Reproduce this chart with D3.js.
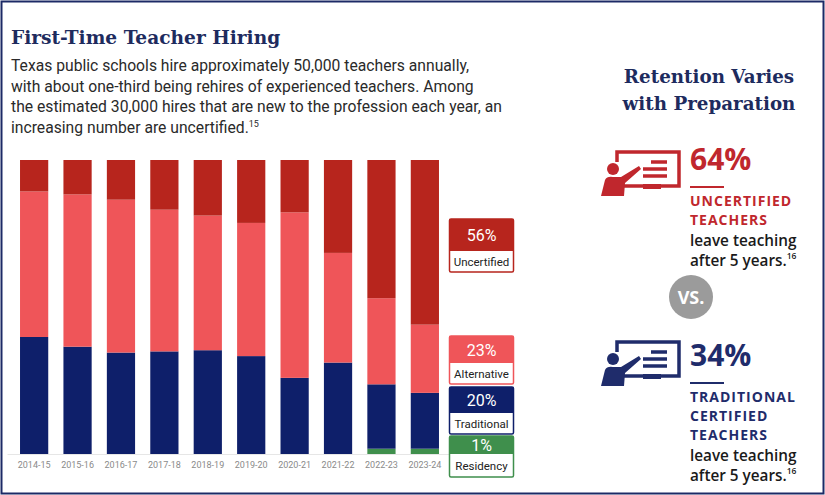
<!DOCTYPE html>
<html><head><meta charset="utf-8">
<script src="https://cdn.jsdelivr.net/npm/d3@7"></script>
<style>body{margin:0;background:#fff}</style>
</head><body><div id="chart"></div>
<script>
const width = 825, height = 495;

const years = ["2014-15","2015-16","2016-17","2017-18","2018-19","2019-20","2020-21","2021-22","2022-23","2023-24"];
const residency   = [0, 0, 0, 0, 0, 0, 0, 0, 1.8, 1.8];
const traditional = [39.8, 36.5, 34.5, 34.9, 35.3, 33.3, 25.9, 31.1, 21.9, 19.0];
const alternative = [49.5, 51.8, 52.0, 48.2, 45.8, 45.3, 56.3, 37.3, 29.3, 23.2];
const uncertified = [10.7, 11.7, 13.5, 16.9, 18.9, 21.4, 17.8, 31.6, 47.0, 56.0];
const seriesKeys = ["residency","traditional","alternative","uncertified"];
const colors = {residency:"#3f8f4c", traditional:"#0e1f6a", alternative:"#ef5559", uncertified:"#b7251d"};
const legendItems = [
  {key:"uncertified", value:"56%", label:"Uncertified"},
  {key:"alternative", value:"23%", label:"Alternative"},
  {key:"traditional", value:"20%", label:"Traditional"},
  {key:"residency",   value:"1%",  label:"Residency"}
];

const svg = d3.select("#chart").append("svg").attr("width", width).attr("height", height);

// frame
svg.append("rect").attr("x",1.5).attr("y",1.5).attr("width",width-3).attr("height",height-3)
  .attr("fill","none").attr("stroke","#1c2a66").attr("stroke-width",2);

const navy = "#1e2b5e";
svg.append("text").attr("x",11).attr("y",44).text("First-Time Teacher Hiring")
  .attr("font-family","DejaVu Serif").attr("font-weight","bold").attr("font-size",18.6).attr("fill",navy);

const para = ["Texas public schools hire approximately 50,000 teachers annually,",
  "with about one-third being rehires of experienced teachers. Among",
  "the estimated 30,000 hires that are new to the profession each year, an",
  "increasing number are uncertified."];
para.forEach((t,i) => {
  const tx = svg.append("text").attr("x",11).attr("y",71 + i*20.7)
    .attr("font-family","Roboto").attr("font-size",15.7).attr("fill","#2a2a2a").text(t);
  if (i === para.length-1) tx.append("tspan").attr("font-size",9).attr("dy",-6).text("15");
});

// chart
const data = years.map((y,i) => ({year:y, residency:residency[i], traditional:traditional[i], alternative:alternative[i], uncertified:uncertified[i]}));
const stack = d3.stack().keys(seriesKeys)(data);
const x = d3.scaleBand().domain(years).range([7, 452]).paddingInner(0.35).paddingOuter(0.3);
const y = d3.scaleLinear().domain([0,100]).range([454,160]);

svg.append("g").selectAll("g").data(stack).join("g").attr("fill", d => colors[d.key])
  .selectAll("rect").data(d => d).join("rect")
  .attr("x", d => x(d.data.year)).attr("width", x.bandwidth())
  .attr("y", d => y(d[1])).attr("height", d => y(d[0]) - y(d[1]));

const xAxis = svg.append("g").attr("transform","translate(0,454)")
  .call(d3.axisBottom(x).tickSize(0).tickPadding(8));
xAxis.select(".domain").attr("stroke","#e6e6e6");
xAxis.selectAll("text").attr("font-family","Roboto").attr("font-size",9).attr("fill","#8a8a8a");

// legend boxes
const boxes = [
  {top:219, split:251, bottom:272},
  {top:336, split:363, bottom:384},
  {top:387, split:413, bottom:434},
  {top:436, split:454, bottom:477}
];
legendItems.forEach((d,i) => {
  const b = boxes[i], c = colors[d.key];
  const g = svg.append("g");
  g.append("rect").attr("x",449.5).attr("y",b.top).attr("width",64).attr("height",b.bottom-b.top)
    .attr("fill","#fff").attr("stroke",c).attr("stroke-width",1.5).attr("rx",1.5);
  g.append("rect").attr("x",449.5).attr("y",b.top).attr("width",64).attr("height",b.split-b.top).attr("fill",c);
  g.append("text").attr("x",481.5).attr("y",(b.top+b.split)/2+6).attr("text-anchor","middle")
    .attr("font-family","Roboto").attr("font-size",16).attr("fill","#fff").text(d.value);
  g.append("text").attr("x",481.5).attr("y",(b.split+b.bottom)/2+4.5).attr("text-anchor","middle")
    .attr("font-family","Roboto").attr("font-size",11.5).attr("fill","#222").text(d.label);
});

// right panel
["Retention Varies","with Preparation"].forEach((t,i) => {
  svg.append("text").attr("x",709).attr("y",83 + i*27).attr("text-anchor","middle").text(t)
    .attr("font-family","DejaVu Serif").attr("font-weight","bold").attr("font-size",18.3).attr("fill",navy);
});

function teacherIcon(tx, ty, c) {
  const g = svg.append("g").attr("transform",`translate(${tx},${ty})`).attr("fill",c);
  g.append("path").attr("fill","none").attr("stroke",c).attr("stroke-width",3.5)
    .attr("d","M18,12 V2 H80 V36 H20");
  [12,19,26].forEach((ly,i) => g.append("line").attr("x1",i===0?52:44).attr("x2",68)
    .attr("y1",ly).attr("y2",ly).attr("stroke",c).attr("stroke-width",3.5));
  g.append("rect").attr("x",44).attr("y",34).attr("width",18).attr("height",5);
  g.append("circle").attr("cx",14).attr("cy",19).attr("r",6);
  g.append("path").attr("d","M2,46 L6,30 Q8,26 14,27 L22,27 L40,16 L42,19 L26,33 L25,46 Z");
}
teacherIcon(599, 150, "#c0272d");
teacherIcon(599, 340, "#1f2c6b");

function stat(y0, pct, c, heads) {
  svg.append("text").attr("x",690).attr("y",y0).text(pct).attr("font-family","Open Sans")
    .attr("font-weight","bold").attr("font-size",30).attr("fill",c);
  svg.append("line").attr("x1",690).attr("x2",724).attr("y1",y0+17).attr("y2",y0+17)
    .attr("stroke",c).attr("stroke-width",2);
  heads.forEach((t,i) => svg.append("text").attr("x",690).attr("y",y0+36+i*19).text(t)
    .attr("font-family","Open Sans").attr("font-weight","bold").attr("font-size",14)
    .attr("letter-spacing",1).attr("fill",c));
  const ty = y0 + 36 + heads.length*19 + 2;
  ["leave teaching","after 5 years."].forEach((t,i) => {
    const tx = svg.append("text").attr("x",690).attr("y",ty + i*20).text(t)
      .attr("font-family","Open Sans").attr("font-weight",600).attr("font-size",15.3).attr("fill","#1a1a1a");
    if (i===1) tx.append("tspan").attr("font-size",8.5).attr("dy",-7).text("16");
  });
}
stat(170, "64%", "#c0272d", ["UNCERTIFIED","TEACHERS"]);
stat(366, "34%", "#1f2c6b", ["TRADITIONAL","CERTIFIED","TEACHERS"]);

svg.append("circle").attr("cx",691).attr("cy",297).attr("r",22).attr("fill","#9b9b9b");
svg.append("text").attr("x",691).attr("y",304).attr("text-anchor","middle").text("VS.")
  .attr("font-family","Open Sans").attr("font-weight","bold").attr("font-size",18).attr("fill","#fff");
</script></body></html>
